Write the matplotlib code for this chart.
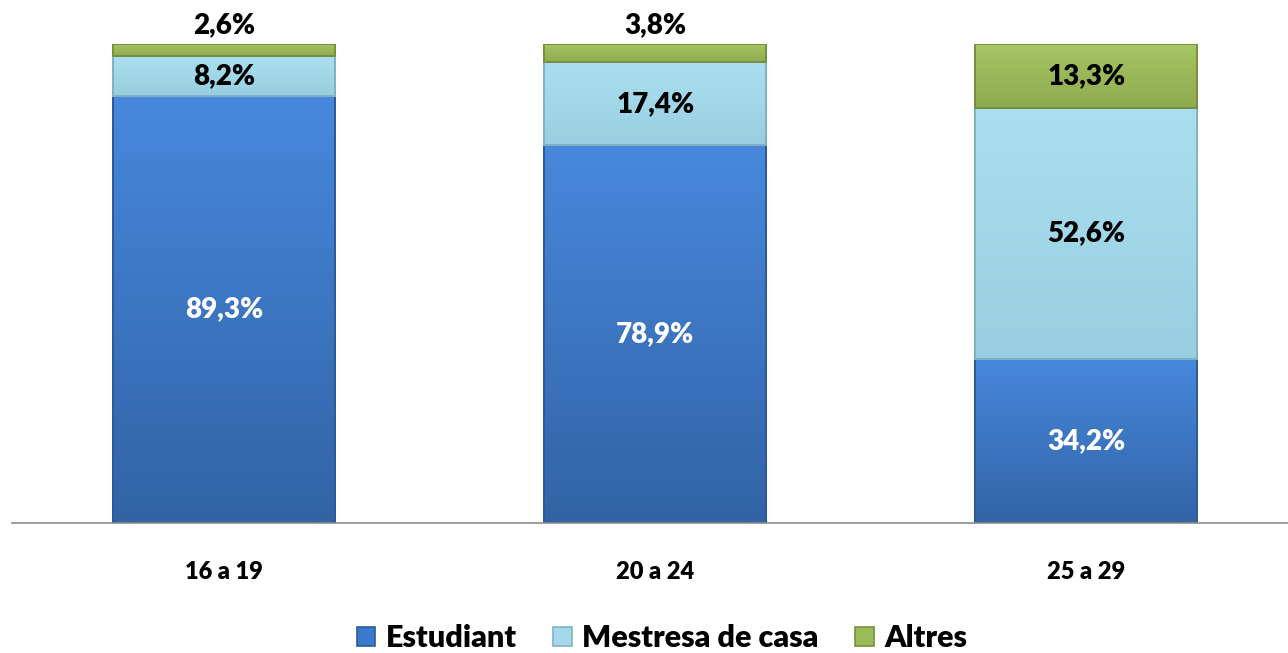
import matplotlib.pyplot as plt
import numpy as np
from matplotlib.colors import LinearSegmentedColormap

categories = ["16 a 19", "20 a 24", "25 a 29"]
estudiant = [89.3, 78.9, 34.2]
mestresa = [8.2, 17.4, 52.6]
altres = [2.6, 3.8, 13.3]
series_names = ["Estudiant", "Mestresa de casa", "Altres"]

plt.rcParams['font.family'] = ['Lato', 'DejaVu Sans']

fig = plt.figure(figsize=(12.88, 6.53), dpi=100)
ax = fig.add_axes([0.0093, 0.199, 0.9907, 0.7336])

x = np.arange(len(categories))
w = 0.515
colors = ["#3b79cc", "#a3d9ea", "#9bbb59"]
edges = ["#2c5a99", "#7fb3c4", "#76903f"]
# gradient top -> bottom for each series
grads = [("#4788dc", "#3263a6"), ("#aadfef", "#98cfe0"), ("#a6c563", "#8eab4f")]

bottom = np.zeros(len(categories))
bars = []
for vals, c, e, g, name in zip([estudiant, mestresa, altres], colors, edges, grads, series_names):
    b = ax.bar(x, vals, w, bottom=bottom, color=c, edgecolor=e, linewidth=1.2, label=name, zorder=2)
    cmap = LinearSegmentedColormap.from_list("g", [g[1], g[0]])
    for p in b.patches:
        px, py = p.get_x(), p.get_y()
        pw, ph = p.get_width(), p.get_height()
        im = ax.imshow(np.linspace(0, 1, 100).reshape(-1, 1), cmap=cmap, aspect="auto",
                       extent=[px, px + pw, py, py + ph], origin="lower", zorder=2.5)
        im.set_clip_path(p)
    # outline on top of gradient
    ax.bar(x, vals, w, bottom=bottom, fill=False, edgecolor=e, linewidth=1.4, zorder=3)
    bars.append(b)
    bottom = bottom + np.array(vals)

# labels
fs = 20
wt = "heavy"
for i in range(len(categories)):
    ax.text(x[i], estudiant[i] / 2, f"{estudiant[i]:.1f}%".replace(".", ","),
            ha="center", va="center", color="white", fontsize=fs, fontweight=wt, zorder=5)
    m_mid = estudiant[i] + mestresa[i] / 2
    ax.text(x[i], m_mid, f"{mestresa[i]:.1f}%".replace(".", ","),
            ha="center", va="center", color="black", fontsize=fs, fontweight=wt, zorder=5)
    top = estudiant[i] + mestresa[i]
    if altres[i] < 5:
        ax.text(x[i], top + altres[i] + 1.3, f"{altres[i]:.1f}%".replace(".", ","),
                ha="center", va="bottom", color="black", fontsize=fs, fontweight=wt, zorder=5)
    else:
        ax.text(x[i], top + altres[i] / 2, f"{altres[i]:.1f}%".replace(".", ","),
                ha="center", va="center", color="black", fontsize=fs, fontweight=wt, zorder=5)

ax.set_xlim(-0.492, 2.468)
ax.set_ylim(0, 100.1)
ax.set_xticks(x)
ax.set_xticklabels(categories, fontsize=17, fontweight=wt)
ax.tick_params(axis="x", length=0, pad=27)
ax.set_yticks([])
for s in ["top", "right", "left"]:
    ax.spines[s].set_visible(False)
ax.spines["bottom"].set_color("#8c8c8c")
ax.spines["bottom"].set_linewidth(1.2)
ax.spines["bottom"].set_zorder(3)

leg = fig.legend(handles=bars, labels=series_names, loc="center", bbox_to_anchor=(0.514, 0.023),
                 ncol=3, frameon=False, fontsize=22, handlelength=0.6, handleheight=0.6,
                 handletextpad=0.35, columnspacing=1.2)
for t in leg.get_texts():
    t.set_fontweight(wt)

fig.savefig("out.png", dpi=100)
